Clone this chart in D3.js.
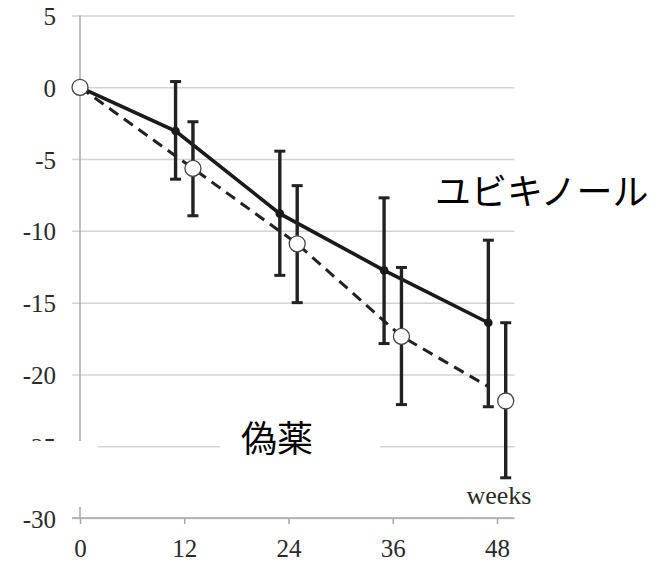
<!DOCTYPE html>
<html>
<head>
<meta charset="utf-8">
<script src="https://cdn.jsdelivr.net/npm/d3@7"></script>
<style>
  html, body { margin: 0; padding: 0; background: #fff; }
  svg { display: block; }
</style>
</head>
<body>
<svg id="chart" width="658" height="565"></svg>
<script>
// ---- data ----
const xTicks = [0, 12, 24, 36, 48];
const yTicks = [5, 0, -5, -10, -15, -20, -25, -30];

const ubqWeeks = [0, 11, 23, 35, 47];
const ubqMean  = [0, -3.05, -8.8, -12.75, -16.4];
const ubqUpper = [0, 0.4, -4.45, -7.7, -10.65];
const ubqLower = [0, -6.4, -13.1, -17.85, -22.25];

const placeboWeeks = [0, 13, 25, 37, 49];
const placeboMean  = [0, -5.65, -10.9, -17.35, -21.85];
const placeboUpper = [0, -2.4, -6.85, -12.55, -16.4];
const placeboLower = [0, -8.95, -15.0, -22.1, -27.2];

const placeboLineWeeks  = [0, 13, 25, 37, 47];
const placeboLineValues = [0, -5.65, -10.9, -17.35, -20.85];

const labelUbq = "ユビキノール";
const labelPlacebo = "偽薬";
const xUnit = "weeks";

// ---- layout ----
const svg = d3.select("#chart");
const x = d3.scaleLinear().domain([0, 50]).range([80, 514.4]);
const y = d3.scaleLinear().domain([-30, 5]).range([518, 15.5]);
const serif = "'Liberation Serif', 'DejaVu Serif', serif";
const cjk = "'Noto Sans CJK JP', 'Noto Sans', sans-serif";

// gridlines + y labels via axis
const gy = svg.append("g")
  .attr("transform", `translate(${x(50)},0)`)
  .call(d3.axisLeft(y).tickValues(yTicks).tickSize(x(50) - 72).tickPadding(16)
        .tickFormat(d => String(d)));
gy.select(".domain").remove();
gy.selectAll(".tick line").attr("stroke", "#d4d4d4").attr("stroke-width", 1.5);
gy.selectAll(".tick text").attr("font-family", serif).attr("font-size", 25)
  .attr("fill", "#2a2a2a").attr("dy", "0.36em");

// y axis line
svg.append("line")
  .attr("x1", x(0)).attr("x2", x(0))
  .attr("y1", y(5)).attr("y2", y(-30))
  .attr("stroke", "#a8a8a8").attr("stroke-width", 1.5);

// x axis
const gx = svg.append("g")
  .attr("transform", `translate(0,${y(-30)})`)
  .call(d3.axisBottom(x).tickValues(xTicks).tickSize(6).tickPadding(15).tickSizeOuter(0));
gx.select(".domain").remove();
gx.selectAll(".tick line").attr("stroke", "#a8a8a8").attr("stroke-width", 1.5);
gx.selectAll(".tick text").attr("font-family", serif).attr("font-size", 25).attr("fill", "#2a2a2a");
svg.append("line")
  .attr("x1", 72).attr("x2", x(50))
  .attr("y1", y(-30)).attr("y2", y(-30))
  .attr("stroke", "#a8a8a8").attr("stroke-width", 1.5);

// white patches (as in the reference)
svg.append("rect").attr("x", 0).attr("y", 441).attr("width", 98).attr("height", 66).attr("fill", "#fff");
svg.append("rect").attr("x", 220).attr("y", 414).attr("width", 160).attr("height", 56).attr("fill", "#fff");

// unit label
svg.append("text").attr("x", 499).attr("y", 504)
  .attr("text-anchor", "middle").attr("font-family", serif).attr("font-size", 26)
  .attr("fill", "#2a2a2a").text(xUnit);

// lines
const ubq = ubqWeeks.map((w, i) => ({w, m: ubqMean[i], hi: ubqUpper[i], lo: ubqLower[i]}));
const plc = placeboWeeks.map((w, i) => ({w, m: placeboMean[i], hi: placeboUpper[i], lo: placeboLower[i]}));
const plcLine = placeboLineWeeks.map((w, i) => ({w, m: placeboLineValues[i]}));

const line = d3.line().x(d => x(d.w)).y(d => y(d.m));

svg.append("path").datum(plcLine).attr("d", line)
  .attr("fill", "none").attr("stroke", "#222").attr("stroke-width", 3)
  .attr("stroke-dasharray", "11,7");
svg.append("path").datum(ubq).attr("d", line)
  .attr("fill", "none").attr("stroke", "#1a1a1a").attr("stroke-width", 3.6);

// error bars
function errorBars(data) {
  const g = svg.append("g");
  const d = data.filter(p => p.w > 0);
  g.selectAll(".v").data(d).join("line")
    .attr("x1", p => x(p.w)).attr("x2", p => x(p.w))
    .attr("y1", p => y(p.hi)).attr("y2", p => y(p.lo))
    .attr("stroke", "#222").attr("stroke-width", 3.4);
  ["hi", "lo"].forEach(k => {
    g.selectAll(".c" + k).data(d).join("line")
      .attr("x1", p => x(p.w) - 5.5).attr("x2", p => x(p.w) + 5.5)
      .attr("y1", p => y(p[k])).attr("y2", p => y(p[k]))
      .attr("stroke", "#222").attr("stroke-width", 3);
  });
}
errorBars(ubq);
errorBars(plc);

// markers
svg.append("g").selectAll("circle").data(ubq.filter(p => p.w > 0)).join("circle")
  .attr("cx", p => x(p.w)).attr("cy", p => y(p.m)).attr("r", 4.3).attr("fill", "#1a1a1a");
svg.append("g").selectAll("circle").data(plc).join("circle")
  .attr("cx", p => x(p.w)).attr("cy", p => y(p.m)).attr("r", 8)
  .attr("fill", "#fff").attr("stroke", "#444").attr("stroke-width", 1.3);

// series labels
svg.append("text").attr("x", 435).attr("y", 205)
  .attr("font-family", cjk).attr("font-size", 36).attr("fill", "#000").text(labelUbq);
svg.append("text").attr("x", 241).attr("y", 452)
  .attr("font-family", cjk).attr("font-size", 36).attr("fill", "#000").text(labelPlacebo);
</script>
</body>
</html>
